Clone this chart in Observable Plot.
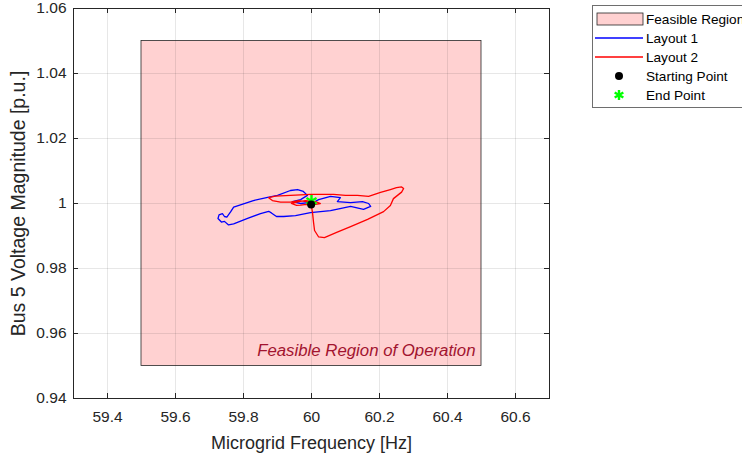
<!DOCTYPE html>
<html>
<head>
<meta charset="utf-8">
<script src="https://cdn.jsdelivr.net/npm/d3@7"></script>
<script src="https://cdn.jsdelivr.net/npm/@observablehq/plot@0.6"></script>
<style>
  html, body { margin: 0; padding: 0; background: #fff; overflow: hidden; }
  #wrap { position: relative; width: 742px; height: 457px; overflow: hidden; font-family: "Liberation Sans", Arial, Helvetica, sans-serif; }
  #legend { position: absolute; left: 592px; top: 5px; }
</style>
</head>
<body>
<div id="wrap"><div id="chart"></div><div id="legend"></div></div>
<script>
// ---- data ----
const xTicks = [59.4, 59.6, 59.8, 60, 60.2, 60.4, 60.6];
const yTicks = [0.94, 0.96, 0.98, 1, 1.02, 1.04, 1.06];
const xDomain = [59.3, 60.7];
const yDomain = [0.94, 1.06];
const regionX = [59.5, 60.5];
const regionY = [0.95, 1.05];
const regionLabel = "Feasible Region of Operation";

// Layout 1 trajectory [frequency Hz, voltage p.u.]
const layout1 = [
  [60.000,1.0000],[60.021,1.0012],[60.056,1.0022],[60.085,1.0018],[60.076,1.0006],[60.115,1.0003],
  [60.150,1.0006],[60.168,1.0000],[60.174,0.9991],[60.153,0.9982],[60.115,0.9991],[60.056,0.9978],
  [59.997,0.9972],[59.953,0.9963],[59.918,0.9960],[59.897,0.9960],[59.882,0.9971],[59.874,0.9976],
  [59.850,0.9969],[59.812,0.9954],[59.771,0.9937],[59.756,0.9934],[59.744,0.9945],[59.735,0.9943],
  [59.725,0.9954],[59.728,0.9965],[59.738,0.9969],[59.744,0.9960],[59.751,0.9958],[59.762,0.9974],
  [59.771,0.9989],[59.800,0.9999],[59.829,1.0009],[59.871,1.0019],[59.900,1.0025],[59.938,1.0040],
  [59.959,1.0043],[59.976,1.0037],[59.988,1.0025],[59.968,1.0012],[59.944,1.0006],[59.968,1.0000],
  [59.991,1.0003],[60.000,1.0000]
];
// Layout 2 trajectory
const layout2 = [
  [60.000,1.0000],[59.985,1.0006],[59.962,1.0009],[59.938,1.0004],[59.909,1.0004],[59.885,1.0009],
  [59.874,1.0018],[59.894,1.0023],[59.938,1.0025],[59.997,1.0028],[60.065,1.0028],[60.100,1.0025],
  [60.135,1.0025],[60.168,1.0022],[60.203,1.0034],[60.232,1.0043],[60.250,1.0049],[60.265,1.0051],
  [60.271,1.0046],[60.265,1.0035],[60.253,1.0025],[60.241,1.0015],[60.232,0.9994],[60.212,0.9975],
  [60.165,0.9951],[60.115,0.9929],[60.074,0.9911],[60.038,0.9895],[60.021,0.9897],[60.009,0.9917],
  [60.006,0.9942],[60.003,0.9972],[60.000,0.9991],[59.985,0.9997],[59.968,0.9995],[59.956,0.9994],
  [59.941,1.0000],[59.962,1.0006],[59.982,1.0009],[60.012,1.0006],[60.026,1.0000],[60.012,0.9997],
  [60.000,1.0000]
];
const startPoint = [[59.999, 0.9997]];
const endPoint = [[60.000, 1.0008]];

const legendItems = ["Feasible Region", "Layout 1", "Layout 2", "Starting Point", "End Point"];

// ---- chart ----
const W = 742, H = 457;
const mL = 73, mR = 193, mT = 8, mB = 59;
const innerW = W - mL - mR, innerH = H - mT - mB;
const tickLen = 5;
const font = '"Liberation Sans", Arial, Helvetica, sans-serif';
const region = [{x1: regionX[0], x2: regionX[1], y1: regionY[0], y2: regionY[1]}];

const chart = Plot.plot({
  width: W, height: H,
  marginLeft: mL, marginRight: mR, marginTop: mT, marginBottom: mB,
  style: {fontFamily: font, background: "white", color: "#262626", overflow: "visible"},
  x: {domain: xDomain},
  y: {domain: yDomain},
  marks: [
    Plot.rect(region, {x1: "x1", x2: "x2", y1: "y1", y2: "y2", fill: "#ffd1d1", stroke: "#262626", strokeWidth: 0.8}),
    Plot.gridX(xTicks, {stroke: "#262626", strokeOpacity: 0.11}),
    Plot.gridY(yTicks, {stroke: "#262626", strokeOpacity: 0.11}),
    Plot.text([regionLabel], {x: regionX[1], y: regionY[0], textAnchor: "end", dx: -6, dy: -15,
      fontStyle: "italic", fontSize: 16.8, fill: "#a2142f"}),
    Plot.line(layout1, {x: d => d[0], y: d => d[1], stroke: "#0000ff", strokeWidth: 1.3}),
    Plot.line(layout2, {x: d => d[0], y: d => d[1], stroke: "#ff0000", strokeWidth: 1.3}),
    Plot.dot(endPoint, {x: d => d[0], y: d => d[1], symbol: "asterisk", r: 5.5, stroke: "#00ff00", strokeWidth: 2.4}),
    Plot.dot(startPoint, {x: d => d[0], y: d => d[1], r: 4, fill: "black", stroke: "none"}),
    Plot.frame({stroke: "#262626", strokeWidth: 1}),
    // inward ticks on all four sides
    Plot.tickX(xTicks, {x: d => d, insetTop: innerH - tickLen, stroke: "#262626"}),
    Plot.tickX(xTicks, {x: d => d, insetBottom: innerH - tickLen, stroke: "#262626"}),
    Plot.tickY(yTicks, {y: d => d, insetRight: innerW - tickLen, stroke: "#262626"}),
    Plot.tickY(yTicks, {y: d => d, insetLeft: innerW - tickLen, stroke: "#262626"}),
    Plot.axisX(xTicks, {tickSize: 0, tickPadding: 12, fontSize: 15.5, label: "Microgrid Frequency [Hz]",
      labelAnchor: "center", labelArrow: "none", labelOffset: 50, tickFormat: d => String(d)}),
    Plot.axisY(yTicks, {tickSize: 0, tickPadding: 7, fontSize: 15.5, label: "Bus 5 Voltage Magnitude [p.u.]",
      labelAnchor: "center", labelArrow: "none", labelOffset: 62, tickFormat: d => String(d)})
  ]
});
d3.select(chart).selectAll("[aria-label='x-axis label'] text").style("font-size", "18px");
d3.select(chart).selectAll("[aria-label='y-axis label'] text").style("font-size", "19.5px");
document.getElementById("chart").appendChild(chart);

// ---- legend ----
const lg = d3.select("#legend").append("svg").attr("width", 160).attr("height", 104)
  .style("font-family", font).style("overflow", "visible");
lg.append("rect").attr("x", 0.5).attr("y", 0.5).attr("width", 170).attr("height", 102)
  .attr("fill", "white").attr("stroke", "#6e6e6e");
const rowY = i => 14 + i * 19;
legendItems.forEach((t, i) => {
  lg.append("text").attr("x", 54).attr("y", rowY(i)).attr("dy", "0.35em")
    .attr("font-size", 13.6).attr("fill", "#000").text(t);
});
lg.append("rect").attr("x", 5).attr("y", rowY(0) - 6).attr("width", 46).attr("height", 12)
  .attr("fill", "#ffd1d1").attr("stroke", "#262626").attr("stroke-width", 0.8);
lg.append("line").attr("x1", 3).attr("x2", 51).attr("y1", rowY(1)).attr("y2", rowY(1)).attr("stroke", "#0000ff").attr("stroke-width", 1.3);
lg.append("line").attr("x1", 3).attr("x2", 51).attr("y1", rowY(2)).attr("y2", rowY(2)).attr("stroke", "#ff0000").attr("stroke-width", 1.3);
lg.append("circle").attr("cx", 27).attr("cy", rowY(3)).attr("r", 4).attr("fill", "black");
lg.append("path").attr("transform", `translate(27,${rowY(4)})`)
  .attr("d", d3.symbol(d3.symbolAsterisk, 70)())
  .attr("stroke", "#00ff00").attr("stroke-width", 2.4).attr("fill", "none");
</script>
</body>
</html>
